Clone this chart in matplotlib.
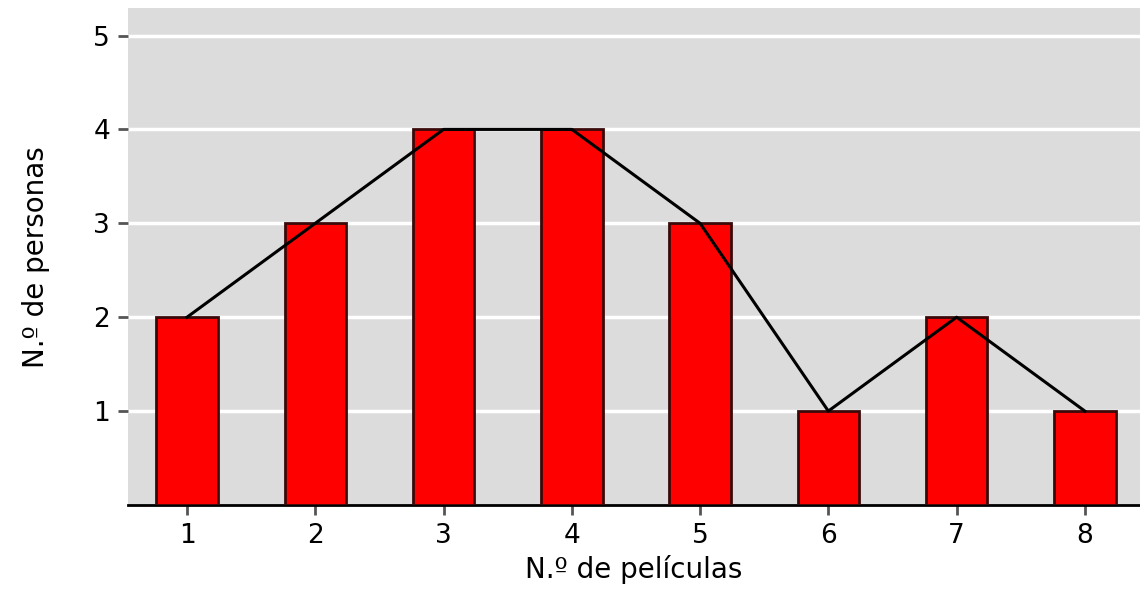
import matplotlib
matplotlib.use("Agg")
from matplotlib import pyplot as plt

plt.rcParams["font.family"] = ["DejaVu Sans"]

# data
peliculas = [1, 2, 3, 4, 5, 6, 7, 8]
personas = [2, 3, 4, 4, 3, 1, 2, 1]

fig = plt.figure(figsize=(11.4, 5.92), dpi=100)
ax = fig.add_axes([0.1123, 0.147, 0.8877, 0.839])
ax.set_facecolor("#dcdcdc")

# bars
ax.bar(peliculas, personas, width=0.48, color="#ff0000", edgecolor="#3a0a0a",
       linewidth=2, zorder=3)

# frequency polygon
ax.plot(peliculas, personas, color="black", linewidth=2.2, zorder=5)

ax.set_xlim(0.54, 8.43)
ax.set_ylim(0, 5.29)
ax.set_xticks(peliculas)
ax.set_yticks([1, 2, 3, 4, 5])
ax.yaxis.grid(True, color="white", linewidth=2.5, zorder=1)
ax.set_axisbelow(True)

for s in ["top", "right", "left"]:
    ax.spines[s].set_visible(False)
ax.spines["bottom"].set_linewidth(2)
ax.tick_params(axis="both", labelsize=19, length=7, width=2, color="#555555", pad=6)

ax.set_xlabel("N.º de películas", fontsize=20, labelpad=4)
ax.set_ylabel("N.º de personas", fontsize=20, labelpad=31)

plt.savefig("out.png", dpi=100)
